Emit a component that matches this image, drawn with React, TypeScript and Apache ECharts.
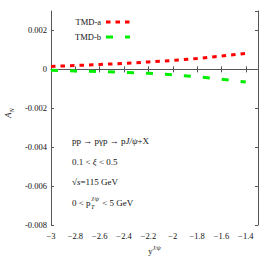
import React, { useEffect, useRef } from "react";
import * as echarts from "echarts";

const xValues = [-3, -2.8, -2.6, -2.4, -2.2, -2.0, -1.8, -1.6, -1.4];
const tmdA = [0.00015, 0.0002, 0.00025, 0.00031, 0.00038, 0.00046, 0.00056, 0.00068, 0.00082];
const tmdB = [-0.00005, -0.00008, -0.00011, -0.00015, -0.0002, -0.00028, -0.00038, -0.00051, -0.00065];
const seriesNames = ["TMD-a", "TMD-b"];
const seriesColors = ["#ff0000", "#00ee00"];
const seriesDash = [[4.5, 5], [7, 12]];
const annotations = [
  "{n|pp → pγp → p}{i|J/ψ}{n|+X}",
  "{n|0.1 < }{i|ξ}{n| < 0.5}",
  "{n|√}{i|s}{n|=115 GeV}",
];

const FONT = "Liberation Serif";
const AXIS = "#555";
const TXT = "#111";

export default function App() {
  const ref = useRef<HTMLDivElement>(null);
  useEffect(() => {
    document.body.style.margin = "0";
    if (!ref.current) return;
    const chart = echarts.init(ref.current, undefined, { renderer: "svg" });
    const fmtX = (v: number) => {
      const r = Math.round(v * 10) / 10;
      return (r < 0 ? "−" : "") + Math.abs(r).toString();
    };
    const fmtY = (v: number) => {
      const r = Math.round(v * 1000) / 1000;
      if (r === 0) return "0";
      return (r < 0 ? "-" : "") + Math.abs(r).toFixed(3);
    };
    const common = {
      axisLine: { lineStyle: { color: AXIS, width: 1 } },
      axisTick: { inside: true, length: 3, lineStyle: { color: AXIS } },
      splitLine: { show: false },
    };
    const richAnn = {
      n: { fontFamily: FONT, fontSize: 9, fill: TXT },
      i: { fontFamily: FONT, fontSize: 9, fontStyle: "italic", fill: TXT },
    };
    chart.setOption({
      animation: false,
      grid: { left: 51, right: 15, top: 11, bottom: 37, containLabel: false },
      xAxis: [
        {
          type: "value",
          min: -3,
          max: -1.3,
          interval: 0.2,
          position: "bottom",
          ...common,
          axisLabel: {
            formatter: fmtX,
            showMaxLabel: false,
            fontFamily: FONT,
            fontSize: 8.5,
            color: TXT,
            margin: 6,
          },
          name: "{b|y}{s|J/ψ}",
          nameLocation: "middle",
          nameGap: 20,
          nameTextStyle: {
            rich: {
              b: { fontFamily: FONT, fontSize: 8.5, color: TXT },
              s: { fontFamily: FONT, fontSize: 6, fontStyle: "italic", color: TXT, verticalAlign: "bottom", padding: [0, 0, 6, 0] },
            },
          },
        },
        {
          type: "value",
          min: -3,
          max: -1.3,
          interval: 0.2,
          position: "top",
          ...common,
          axisLabel: { show: false },
        },
      ],
      yAxis: [
        {
          type: "value",
          min: -0.008,
          max: 0.003,
          interval: 0.002,
          position: "left",
          ...common,
          axisLabel: {
            formatter: fmtY,
            showMaxLabel: false,
            fontFamily: FONT,
            fontSize: 8.5,
            color: TXT,
            margin: 4,
          },
        },
        {
          type: "value",
          min: -0.008,
          max: 0.003,
          interval: 0.002,
          position: "right",
          ...common,
          axisLabel: { show: false },
        },
      ],
      series: [
        {
          name: seriesNames[0],
          type: "line",
          data: xValues.map((x, i) => [x, tmdA[i]]),
          showSymbol: false,
          symbol: "none",
          lineStyle: { color: seriesColors[0], width: 3, type: seriesDash[0] },
          itemStyle: { color: seriesColors[0] },
        },
        {
          name: seriesNames[1],
          type: "line",
          data: xValues.map((x, i) => [x, tmdB[i]]),
          showSymbol: false,
          symbol: "none",
          lineStyle: { color: seriesColors[1], width: 3, type: seriesDash[1] },
          itemStyle: { color: seriesColors[1] },
        },
      ],
      graphic: [
        ...seriesNames.map((n, i) => ({
          type: "text",
          x: 101,
          y: 22 + i * 15,
          style: { text: n, fontFamily: FONT, fontSize: 8.5, fill: TXT, align: "right", verticalAlign: "middle" },
        })),
        ...seriesNames.map((n, i) => ({
          type: "line",
          shape: { x1: 106, y1: 22 + i * 15, x2: 130, y2: 22 + i * 15 },
          style: { stroke: seriesColors[i], lineWidth: 3, lineDash: seriesDash[i] },
        })),
        {
          type: "text",
          x: 8,
          y: 113,
          rotation: Math.PI / 2,
          style: {
            text: "{a|A}{n|N}",
            align: "center",
            verticalAlign: "middle",
            rich: {
              a: { fontFamily: FONT, fontStyle: "italic", fontSize: 9, fill: TXT },
              n: { fontFamily: FONT, fontStyle: "italic", fontSize: 6.5, fill: TXT, padding: [6, 0, 0, 0] },
            },
          },
        },
        ...annotations.map((t, i) => ({
          type: "text",
          x: 72,
          y: 141 + i * 20.6,
          style: { text: t, verticalAlign: "middle", rich: richAnn },
        })),
        {
          type: "text",
          x: 72,
          y: 203,
          style: { text: "0 < p", fontFamily: FONT, fontSize: 9, fill: TXT, verticalAlign: "middle" },
        },
        {
          type: "text",
          x: 91,
          y: 206.5,
          style: { text: "T", fontFamily: FONT, fontSize: 6, fontStyle: "italic", fill: TXT, verticalAlign: "middle" },
        },
        {
          type: "text",
          x: 91,
          y: 198.5,
          style: { text: "J/ψ", fontFamily: FONT, fontSize: 6, fontStyle: "italic", fill: TXT, verticalAlign: "middle" },
        },
        {
          type: "text",
          x: 100,
          y: 203,
          style: { text: " < 5 GeV", fontFamily: FONT, fontSize: 9, fill: TXT, verticalAlign: "middle" },
        },
      ],
    });
    return () => chart.dispose();
  }, []);
  return <div ref={ref} style={{ width: 273, height: 262 }} />;
}
